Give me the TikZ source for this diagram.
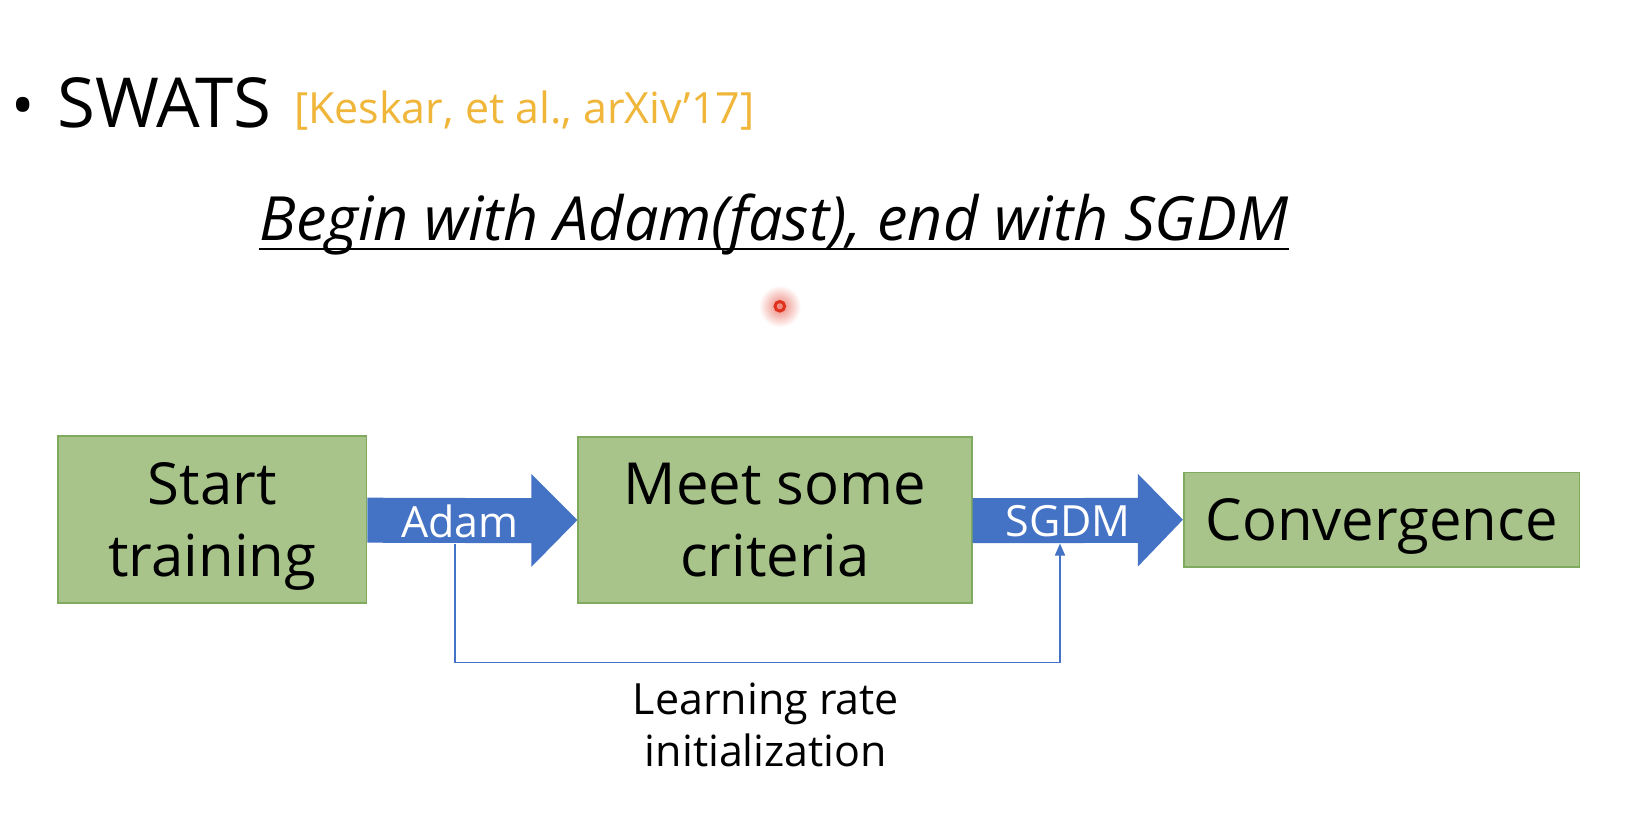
\documentclass[tikz,border=0pt]{standalone}
\usepackage{fontspec}
\setmainfont{Open Sans}
\usetikzlibrary{calc,arrows.meta}
\definecolor{greenfill}{HTML}{A9C48B}
\definecolor{greenline}{HTML}{80AA5E}
\definecolor{arrowblue}{HTML}{4472C4}
\definecolor{citecol}{HTML}{F0B63A}
\definecolor{laser}{HTML}{E0301E}
\tikzset{
  greenbox/.style={draw=greenline, line width=1.6pt, fill=greenfill, align=center, inner sep=0pt,
    text depth=0pt, font=\fontsize{58}{72}\selectfont},
  arrowlabel/.style={text=white, font=\fontsize{43}{50}\selectfont, inner sep=0pt},
  conn/.style={draw=arrowblue, line width=1.6pt, -{Triangle[length=12pt,width=10pt]}},
}
\begin{document}
\begin{tikzpicture}[x=1pt,y=-1pt]
\useasboundingbox (0,0) rectangle (1628,818);
\fill[white] (0,0) rectangle (1628,818);
% heading
\node[anchor=base, inner sep=0pt, font=\fontsize{62}{70}\selectfont] (bullet) at (23,127.7) {•};
\node[anchor=base west, inner sep=0pt, font=\fontsize{69}{78}\selectfont] (swats) at (57,127.7) {SWATS};
\node[anchor=base west, inner sep=0pt, text=citecol, font=\fontsize{43}{50}\selectfont] (cite) at (294,123.5) {[Keskar, et al., arXiv'17]};
\node[anchor=base, inner sep=0pt, font=\itshape\fontsize{61}{70}\selectfont] (title) at (774,241) {Begin with Adam(fast), end with SGDM};
\draw[line width=2pt] ($(title.base west)+(0,8)$) -- ($(title.base east)+(0,8)$);
% laser pointer dot
\shade[inner color=laser!60, outer color=white] (779.8,306.3) circle (21);
\draw[laser, line width=3pt] (779.8,306.3) circle (4.8);
% boxes
\node[greenbox, minimum width=308.4pt, minimum height=167pt] (start) at (212.3,519.5) {Start\\training};
\node[greenbox, minimum width=393.5pt, minimum height=166pt] (meet) at (775,520) {Meet some\\criteria};
\node[greenbox, minimum width=395.6pt, minimum height=94.5pt] (conv) at (1381.5,519.7) {Convergence};
% block arrows
\fill[arrowblue] ($(start.east)+(0,-21.8)$) -- ($(meet.west)+(-46,-21.8)$) -- ($(meet.west)+(-46,-45.8)$)
  -- (meet.west) -- ($(meet.west)+(-46,46.8)$) -- ($(meet.west)+(-46,23.2)$) -- ($(start.east)+(0,23.2)$) -- cycle;
\fill[arrowblue] ($(meet.east)+(0,-21.8)$) -- ($(conv.west)+(-45,-21.8)$) -- ($(conv.west)+(-45,-45.8)$)
  -- (conv.west) -- ($(conv.west)+(-45,46.8)$) -- ($(conv.west)+(-45,23.2)$) -- ($(meet.east)+(0,23.2)$) -- cycle;
\node[arrowlabel] (adam) at (460,521) {Adam};
\node[arrowlabel] (sgdm) at (1068,521) {SGDM};
% learning rate connector
\coordinate (lrfrom) at (454.8,543.5);
\coordinate (lrto) at (1060,543.5);
\draw[conn] (lrfrom) -- ($(lrfrom)+(0,119)$) -| (lrto);
\node[align=center, inner sep=0pt, anchor=base, font=\fontsize{43}{52}\selectfont] (lr) at (766,766) {Learning rate\\initialization};
\end{tikzpicture}
\end{document}
